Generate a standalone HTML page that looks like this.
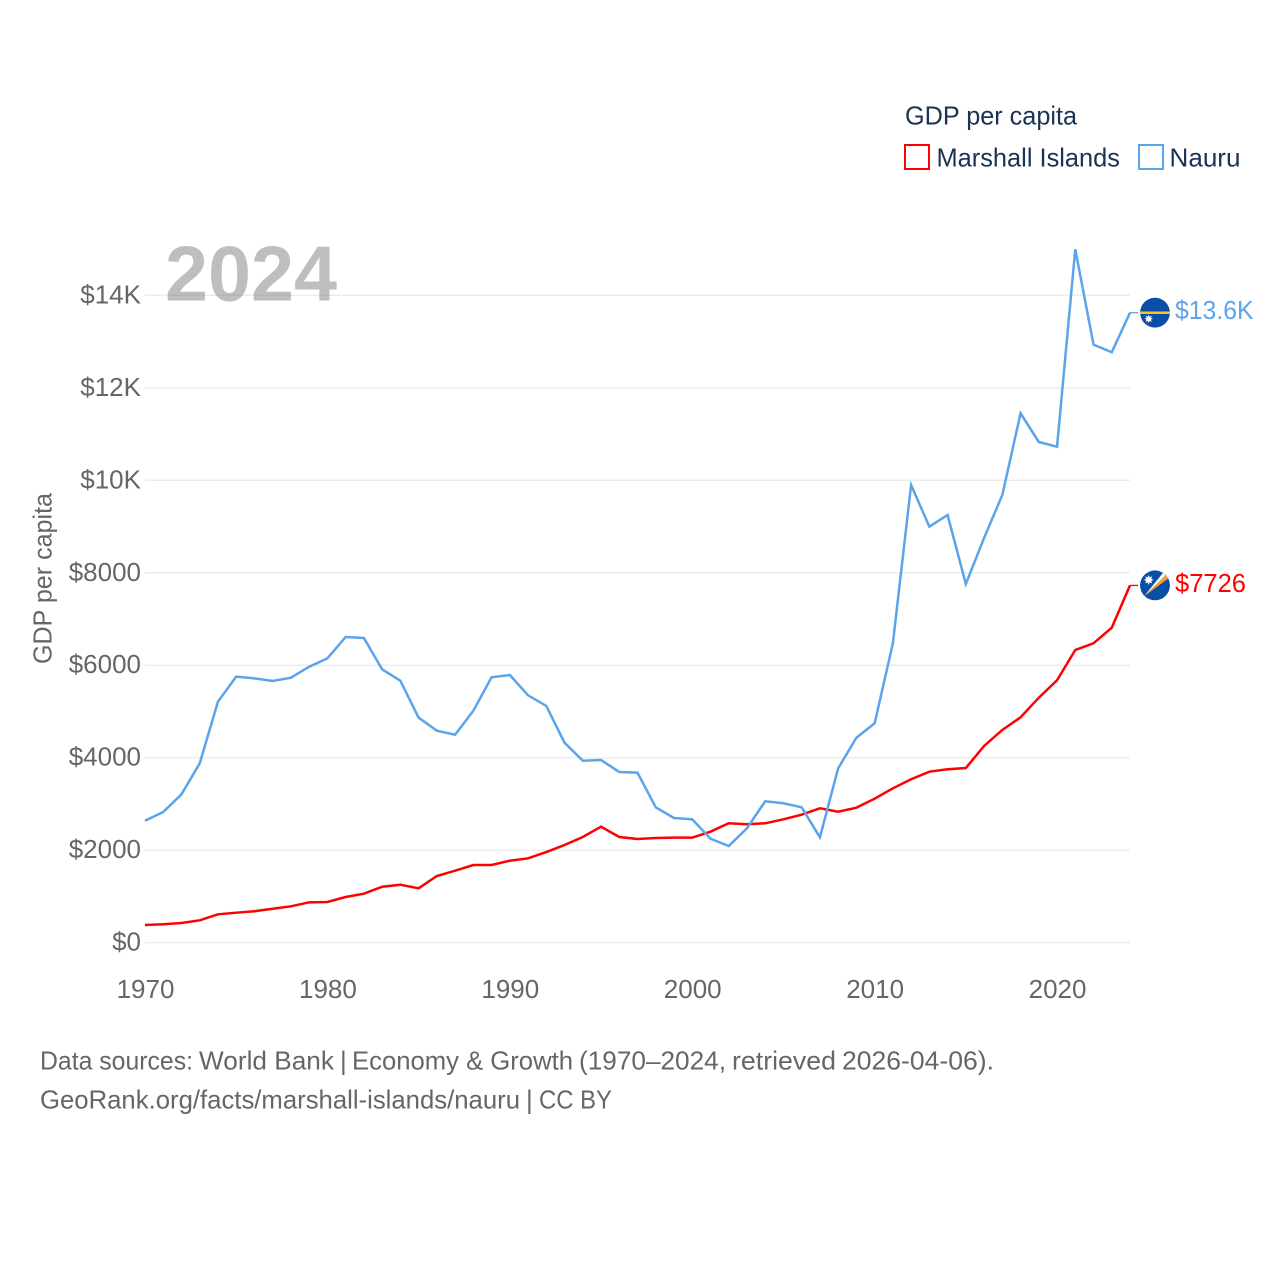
<!DOCTYPE html>
<html lang="en">
<head>
<meta charset="utf-8">
<title>GDP per capita: Marshall Islands and Nauru</title>
<style>
html,body{margin:0;padding:0;background:#fff;}
svg{display:block;font-family:"Liberation Sans",sans-serif;}
</style>
</head>
<body>
<svg id="chart" xmlns="http://www.w3.org/2000/svg" width="1280" height="1280" viewBox="0 0 1280 1280">
  <defs>
    <clipPath id="flag-clip"><circle cx="0" cy="0" r="15"/></clipPath>
  </defs>
  <rect x="0" y="0" width="1280" height="1280" fill="#ffffff"/>

  <g id="grid"></g>
  <g id="y-ticks"></g>
  <g id="x-ticks"></g>
  <g id="series"></g>

  <text transform="translate(51.5 664) rotate(-90)" font-size="26" fill="#666666" textLength="171" lengthAdjust="spacingAndGlyphs">GDP per capita</text>
  <text x="165" y="300.5" font-size="78" font-weight="700" fill="#888888" fill-opacity="0.55" textLength="172" lengthAdjust="spacingAndGlyphs">2024</text>

  <g>
    <text x="905" y="124.5" font-size="26" fill="#1a3354" textLength="172" lengthAdjust="spacingAndGlyphs">GDP per capita</text>
    <g>
      <rect x="905" y="145" width="24" height="24" fill="none" stroke="#ff0000" stroke-width="2"/>
      <text x="936.5" y="166.5" font-size="26" fill="#1a3354" textLength="183.5" lengthAdjust="spacingAndGlyphs">Marshall Islands</text>
    </g>
    <g>
      <rect x="1139" y="145" width="24" height="24" fill="none" stroke="#5ba4ec" stroke-width="2"/>
      <text x="1169.5" y="166.5" font-size="26" fill="#1a3354" textLength="71" lengthAdjust="spacingAndGlyphs">Nauru</text>
    </g>
  </g>

  <g id="flag-nauru">
    <g clip-path="url(#flag-clip)">
      <circle cx="0" cy="0" r="15" fill="#0b4ea8"/>
      <rect x="-15" y="-1.2" width="30" height="2.5" fill="#f7c52e"/>
      <polygon fill="#ffffff" points="-6.3,1.8 -5.4,4.1 -3.2,3 -4.2,5.2 -2,6.1 -4.2,7 -3.2,9.2 -5.4,8.2 -6.3,10.4 -7.2,8.2 -9.4,9.2 -8.4,7 -10.6,6.1 -8.4,5.2 -9.4,3 -7.2,4.1"/>
    </g>
  </g>

  <g id="flag-marshall">
    <g clip-path="url(#flag-clip)">
      <circle cx="0" cy="0" r="15" fill="#0b4ea8"/>
      <polygon fill="#ffffff" points="-11,11 8,-12.5 10.5,-10"/>
      <polygon fill="#f6a02c" points="-11,11 10.5,-10 13.5,-7"/>
      <polygon fill="#ffffff" points="-6.3,-10.5 -5.3,-8 -2.8,-9 -3.8,-6.5 -1.3,-5.5 -3.8,-4.5 -2.8,-2 -5.3,-3 -6.3,-0.5 -7.3,-3 -9.8,-2 -8.8,-4.5 -11.3,-5.5 -8.8,-6.5 -9.8,-9 -7.3,-8"/>
    </g>
  </g>

  <g font-size="26" fill="#666666">
    <text x="40" y="1069.5" textLength="153" lengthAdjust="spacingAndGlyphs">Data sources:</text>
    <text x="199" y="1069.5" textLength="135" lengthAdjust="spacingAndGlyphs">World Bank</text>
    <text x="340" y="1069.5">|</text>
    <text x="352" y="1069.5" textLength="221" lengthAdjust="spacingAndGlyphs">Economy &amp; Growth</text>
    <text x="579" y="1069.5" textLength="147" lengthAdjust="spacingAndGlyphs">(1970–2024,</text>
    <text x="732" y="1069.5" textLength="104" lengthAdjust="spacingAndGlyphs">retrieved</text>
    <text x="842" y="1069.5" textLength="152" lengthAdjust="spacingAndGlyphs">2026-04-06).</text>
    <text x="40" y="1108.5" textLength="480" lengthAdjust="spacingAndGlyphs">GeoRank.org/facts/marshall-islands/nauru</text>
    <text x="526" y="1108.5">|</text>
    <text x="539" y="1108.5" textLength="73" lengthAdjust="spacingAndGlyphs">CC BY</text>
  </g>
</svg>

<script>
const years = [1970,1971,1972,1973,1974,1975,1976,1977,1978,1979,1980,1981,1982,1983,1984,1985,1986,1987,1988,1989,1990,1991,1992,1993,1994,1995,1996,1997,1998,1999,2000,2001,2002,2003,2004,2005,2006,2007,2008,2009,2010,2011,2012,2013,2014,2015,2016,2017,2018,2019,2020,2021,2022,2023,2024];
const marshallValues = [383,398,426,484,614,649,679,735,787,873,880,988,1060,1211,1254,1176,1442,1557,1680,1680,1773,1825,1961,2113,2286,2509,2286,2243,2264,2271,2271,2401,2582,2561,2582,2668,2768,2907,2833,2920,3114,3339,3534,3698,3750,3778,4254,4600,4874,5298,5675,6330,6475,6812,7726];
const nauruValues = [2638,2826,3209,3879,5212,5753,5717,5660,5731,5969,6150,6611,6590,5912,5666,4866,4585,4498,5017,5739,5789,5350,5119,4325,3936,3951,3692,3676,2928,2697,2668,2249,2091,2474,3058,3015,2928,2279,3771,4433,4745,6475,9898,8997,9249,7757,8752,9682,11449,10828,10727,14995,12933,12768,13624];
const yTickValues = [0,2000,4000,6000,8000,10000,12000,14000];
const yTickLabels = ["$0","$2000","$4000","$6000","$8000","$10K","$12K","$14K"];
const xTickValues = [1970,1980,1990,2000,2010,2020];

const SVG_NS = "http://www.w3.org/2000/svg";
const plotLeft = 145, plotRight = 1130, yZero = 942.7, yTop = 295.3;
function xScale(year) { return plotLeft + (year - 1970) * (plotRight - plotLeft) / (2024 - 1970); }
function yScale(value) { return yZero - value * (yZero - yTop) / 14000; }
function formatValue(v) { return v >= 10000 ? "$" + (v / 1000).toFixed(1) + "K" : "$" + Math.round(v); }
function make(tag, attrs, parent) {
  const el = document.createElementNS(SVG_NS, tag);
  for (const k in attrs) el.setAttribute(k, attrs[k]);
  parent.appendChild(el);
  return el;
}

const gridGroup = document.getElementById("grid");
const yTickGroup = document.getElementById("y-ticks");
yTickValues.forEach(function (v, i) {
  const line = make("line", {x1: plotLeft, x2: plotRight, y1: yScale(v), y2: yScale(v), stroke: "#ececec", "stroke-width": 1.5}, gridGroup);
  
  
  const label = make("text", {x: 141, y: yScale(v) + 8, "text-anchor": "end", "font-size": 26, fill: "#666666"}, yTickGroup);
  label.textContent = yTickLabels[i];
  
  
});

const xTickGroup = document.getElementById("x-ticks");
xTickValues.forEach(function (year) {
  const label = make("text", {x: xScale(year) + 0.5, y: 998, "text-anchor": "middle", "font-size": 26, fill: "#666666"}, xTickGroup);
  label.textContent = String(year);
  
  
});

function linePoints(values) {
  return values.map(function (v, i) { return xScale(years[i]).toFixed(2) + "," + yScale(v).toFixed(2); }).join(" ");
}

const seriesGroup = document.getElementById("series");

const marshallLine = make("polyline", {points: linePoints(marshallValues), fill: "none", stroke: "#ff0000", "stroke-width": 2.5}, seriesGroup);



const nauruLine = make("polyline", {points: linePoints(nauruValues), fill: "none", stroke: "#5ba4ec", "stroke-width": 2.5}, seriesGroup);



const marshallLast = marshallValues[marshallValues.length - 1];
const nauruLast = nauruValues[nauruValues.length - 1];

const marshallConnector = make("line", {x1: plotRight, x2: 1138, y1: yScale(marshallLast), y2: yScale(marshallLast), stroke: "#ff0000", "stroke-width": 1.3}, seriesGroup);



const nauruConnector = make("line", {x1: plotRight, x2: 1138, y1: yScale(nauruLast), y2: yScale(nauruLast), stroke: "#5ba4ec", "stroke-width": 1.3}, seriesGroup);



const marshallEnd = make("text", {x: 1175, y: yScale(marshallLast) + 6.5, "font-size": 26, fill: "#ff0000", textLength: 71, lengthAdjust: "spacingAndGlyphs"}, seriesGroup);
marshallEnd.textContent = formatValue(marshallLast);



const nauruEnd = make("text", {x: 1175, y: yScale(nauruLast) + 6.5, "font-size": 26, fill: "#5ba4ec", textLength: 78.5, lengthAdjust: "spacingAndGlyphs"}, seriesGroup);
nauruEnd.textContent = formatValue(nauruLast);



document.getElementById("flag-marshall").setAttribute("transform", "translate(1155 " + yScale(marshallLast) + ")");
document.getElementById("flag-nauru").setAttribute("transform", "translate(1155 " + yScale(nauruLast) + ")");
</script>
</body>
</html>
